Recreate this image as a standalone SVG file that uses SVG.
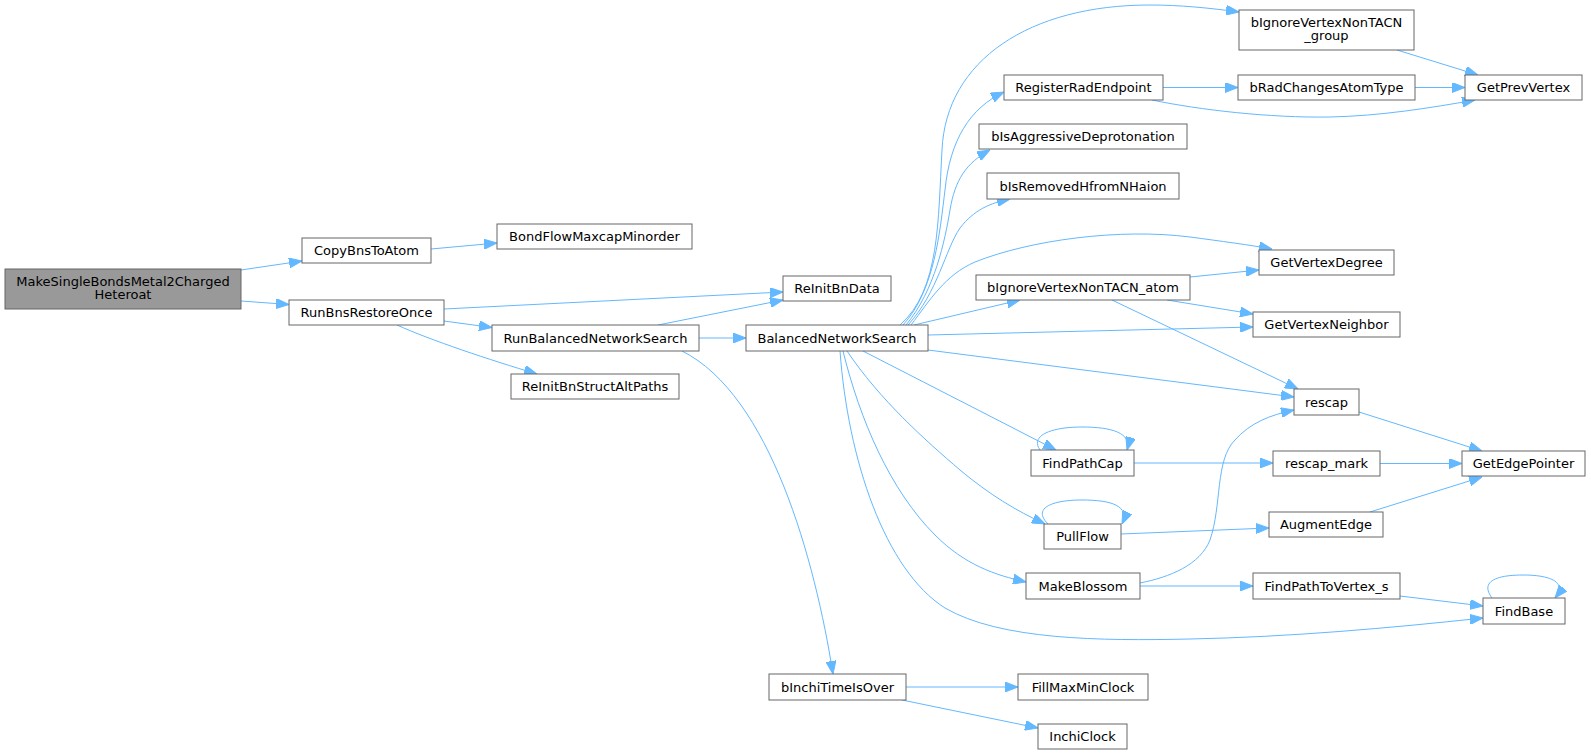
<svg xmlns="http://www.w3.org/2000/svg" width="1591" height="755" viewBox="0 0 1591 755">
<defs>
<marker id="arr" viewBox="0 0 13 10" refX="13" refY="5" markerWidth="13" markerHeight="10" markerUnits="userSpaceOnUse" orient="auto">
<path d="M0,0 L13,5 L0,10 z" fill="#63b8ff" stroke="#63b8ff" stroke-width="1"/>
</marker>
</defs>
<style>
.node rect{fill:#ffffff;stroke:#666666;stroke-width:1}
.node.root rect{fill:#999999}
text{font-family:"DejaVu Sans","Liberation Sans",sans-serif;font-size:13px;text-anchor:middle;fill:#000000}
.edges path{fill:none;stroke:#63b8ff;stroke-width:1;marker-end:url(#arr)}
</style>
<rect x="0" y="0" width="1591" height="755" fill="#ffffff"/>
<g id="edges" class="edges">
<path d="M241,270 L302,261"/>
<path d="M241,301 L289,304.5"/>
<path d="M431,249 L497,243"/>
<path d="M444,309 L783,292"/>
<path d="M444,321 L492,327.5"/>
<path d="M397,325 C430,340 490,360 537,374"/>
<path d="M658,325 L783,300"/>
<path d="M699,338 L746,338"/>
<path d="M682,351 C770,395 815,560 833,674"/>
<path d="M900,325 C940,290 938,220 942,150 C946,60 1030,5 1150,5 C1180,5 1210,8 1239,12"/>
<path d="M903,325 C935,290 940,230 945,190 C950,140 970,108 1004,92"/>
<path d="M906,325 C935,290 945,240 950,210 C955,180 966,163 990,150"/>
<path d="M908,325 C938,292 945,250 960,228 C974,210 990,203 1010,199"/>
<path d="M911,325 C930,300 945,275 975,262 C1030,240 1120,228 1190,237 C1220,241 1250,245 1272,249"/>
<path d="M914,325 L1020,300"/>
<path d="M928,335 L1253,327"/>
<path d="M928,350 L1294,397"/>
<path d="M863,351 L1056,450"/>
<path d="M847,351 C880,400 925,440 960,470 C990,495 1015,510 1045,524"/>
<path d="M843,351 C860,420 890,490 935,535 C965,565 995,575 1026,582"/>
<path d="M840,351 C848,460 885,570 945,608 C1000,640 1100,641 1190,639 C1290,637 1390,628 1483,618"/>
<path d="M1163,87.5 L1238,87.5"/>
<path d="M1152,100 C1200,110 1270,118 1330,117 C1380,116 1430,108 1475,100"/>
<path d="M1415,87.5 L1465,87.5"/>
<path d="M1397,50 L1478,75"/>
<path d="M1190,277 L1259,270"/>
<path d="M1167,300 L1253,314"/>
<path d="M1112,300 L1298,389"/>
<path d="M1040,450 C1030,436 1050,427 1082,427 C1112,427 1132,433 1127,450"/>
<path d="M1048,524 C1032,508 1052,500 1082,500 C1112,500 1130,506 1122,524"/>
<path d="M1134,463 L1273,463"/>
<path d="M1121,534 L1269,528"/>
<path d="M1140,583 C1170,577 1200,565 1210,540 C1222,505 1215,460 1235,440 C1250,423 1270,415 1294,410"/>
<path d="M1140,586 L1253,586"/>
<path d="M1400,596 L1483,606"/>
<path d="M1492,598 C1480,582 1495,575 1523,575 C1550,575 1568,582 1555,598"/>
<path d="M1359,412 L1482,451"/>
<path d="M1380,463.5 L1462,463.5"/>
<path d="M1370,512 L1482,477"/>
<path d="M906,687 L1018,687"/>
<path d="M902,700 L1038,728"/>
</g>
<g id="n0" class="node root"><rect x="5" y="269" width="236" height="40"/><text x="123" y="285.5">MakeSingleBondsMetal2Charged</text><text x="123" y="299">Heteroat</text></g>
<g id="n1" class="node"><rect x="302" y="238" width="129" height="25"/><text x="366.5" y="255.2">CopyBnsToAtom</text></g>
<g id="n2" class="node"><rect x="289" y="300" width="155" height="25"/><text x="366.5" y="317.2">RunBnsRestoreOnce</text></g>
<g id="n3" class="node"><rect x="497" y="224" width="195" height="25"/><text x="594.5" y="241.2">BondFlowMaxcapMinorder</text></g>
<g id="n4" class="node"><rect x="492" y="325" width="207" height="26"/><text x="595.5" y="342.7">RunBalancedNetworkSearch</text></g>
<g id="n5" class="node"><rect x="511" y="374" width="168" height="25"/><text x="595" y="391.2">ReInitBnStructAltPaths</text></g>
<g id="n6" class="node"><rect x="783" y="276" width="108" height="25"/><text x="837" y="293.2">ReInitBnData</text></g>
<g id="n7" class="node"><rect x="746" y="325" width="182" height="26"/><text x="837" y="342.7">BalancedNetworkSearch</text></g>
<g id="n8" class="node"><rect x="769" y="674" width="137" height="26"/><text x="837.5" y="691.7">bInchiTimeIsOver</text></g>
<g id="n9" class="node"><rect x="1239" y="10" width="175" height="40"/><text x="1326.5" y="26.5">bIgnoreVertexNonTACN</text><text x="1326.5" y="40">_group</text></g>
<g id="n10" class="node"><rect x="1004" y="75" width="159" height="25"/><text x="1083.5" y="92.2">RegisterRadEndpoint</text></g>
<g id="n11" class="node"><rect x="979" y="124" width="208" height="25"/><text x="1083" y="141.2">bIsAggressiveDeprotonation</text></g>
<g id="n12" class="node"><rect x="987" y="173" width="192" height="26"/><text x="1083" y="190.7">bIsRemovedHfromNHaion</text></g>
<g id="n13" class="node"><rect x="976" y="275" width="214" height="25"/><text x="1083" y="292.2">bIgnoreVertexNonTACN_atom</text></g>
<g id="n14" class="node"><rect x="1031" y="450" width="103" height="26"/><text x="1082.5" y="467.7">FindPathCap</text></g>
<g id="n15" class="node"><rect x="1044" y="524" width="77" height="25"/><text x="1082.5" y="541.2">PullFlow</text></g>
<g id="n16" class="node"><rect x="1026" y="573" width="114" height="26"/><text x="1083" y="590.7">MakeBlossom</text></g>
<g id="n17" class="node"><rect x="1018" y="674" width="130" height="26"/><text x="1083" y="691.7">FillMaxMinClock</text></g>
<g id="n18" class="node"><rect x="1038" y="724" width="89" height="25"/><text x="1082.5" y="741.2">InchiClock</text></g>
<g id="n19" class="node"><rect x="1238" y="75" width="177" height="25"/><text x="1326.5" y="92.2">bRadChangesAtomType</text></g>
<g id="n20" class="node"><rect x="1259" y="250" width="135" height="25"/><text x="1326.5" y="267.2">GetVertexDegree</text></g>
<g id="n21" class="node"><rect x="1253" y="312" width="147" height="25"/><text x="1326.5" y="329.2">GetVertexNeighbor</text></g>
<g id="n22" class="node"><rect x="1294" y="389" width="65" height="26"/><text x="1326.5" y="406.7">rescap</text></g>
<g id="n23" class="node"><rect x="1273" y="451" width="107" height="25"/><text x="1326.5" y="468.2">rescap_mark</text></g>
<g id="n24" class="node"><rect x="1269" y="512" width="114" height="25"/><text x="1326" y="529.2">AugmentEdge</text></g>
<g id="n25" class="node"><rect x="1253" y="573" width="147" height="26"/><text x="1326.5" y="590.7">FindPathToVertex_s</text></g>
<g id="n26" class="node"><rect x="1465" y="75" width="117" height="25"/><text x="1523.5" y="92.2">GetPrevVertex</text></g>
<g id="n27" class="node"><rect x="1462" y="451" width="123" height="25"/><text x="1523.5" y="468.2">GetEdgePointer</text></g>
<g id="n28" class="node"><rect x="1483" y="598" width="82" height="26"/><text x="1524" y="615.7">FindBase</text></g>
</svg>
